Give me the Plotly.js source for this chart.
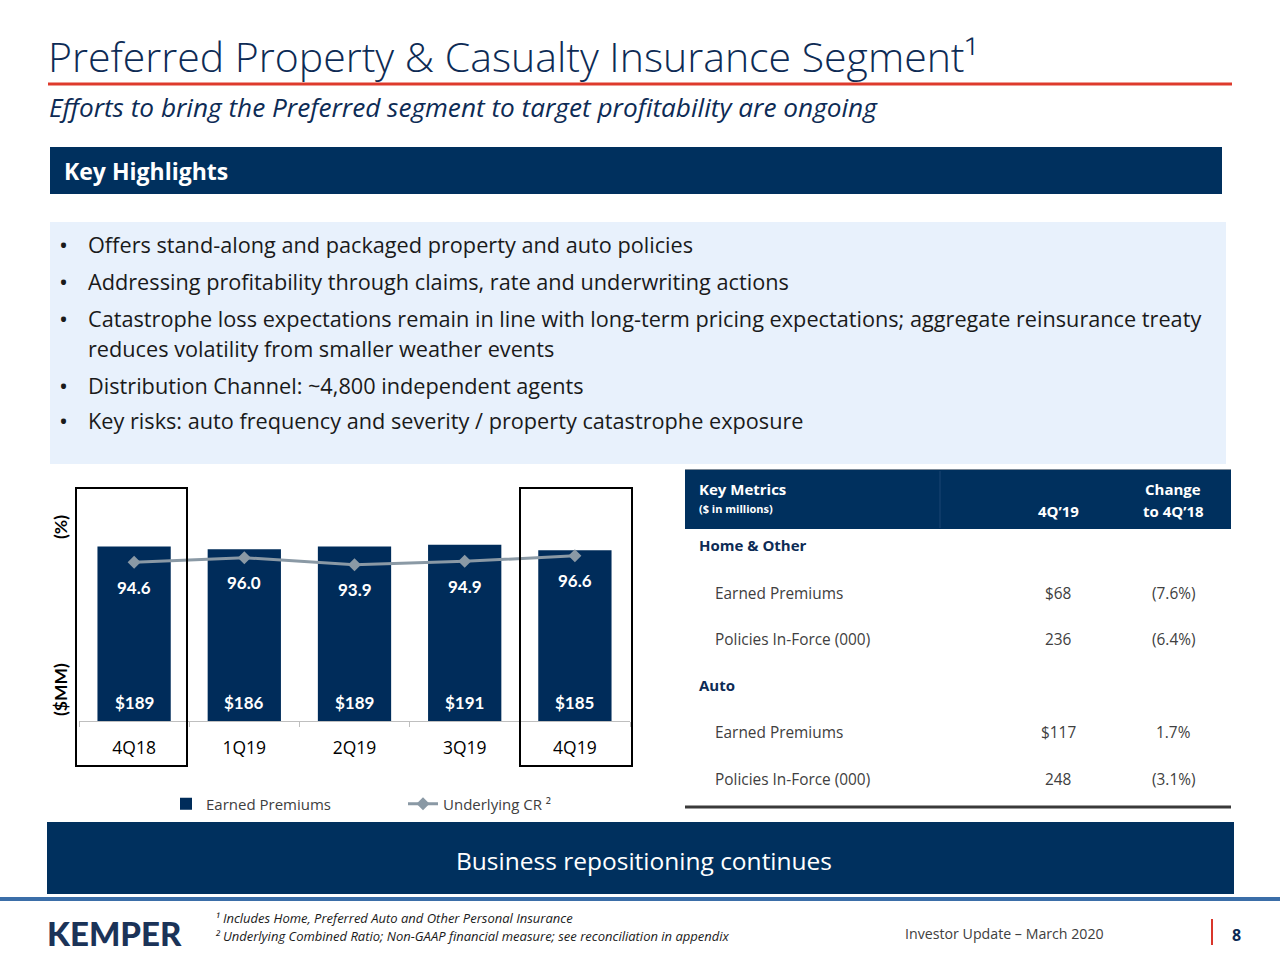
<!DOCTYPE html>
<html>
<head>
<meta charset="utf-8">
<script src="https://cdn.plot.ly/plotly-3.0.1.min.js"></script>
<style>
  html, body { margin: 0; padding: 0; background: #ffffff; }
  #chart { width: 1280px; height: 960px; }
</style>
</head>
<body>
<div id="chart"></div>
<script>
// ---------- data ----------
const quarters = ["4Q18", "1Q19", "2Q19", "3Q19", "4Q19"];
const earnedPremiums = [189, 186, 189, 191, 185];
const underlyingCR = [94.6, 96.0, 93.9, 94.9, 96.6];

const bullets = [
  "Offers stand-along and packaged property and auto policies",
  "Addressing profitability through claims, rate and underwriting actions",
  "Catastrophe loss expectations remain in line with long-term pricing expectations; aggregate reinsurance treaty",
  "Distribution Channel: ~4,800 independent agents",
  "Key risks: auto frequency and severity / property catastrophe exposure"
];
const bulletContinuation = "reduces volatility from smaller weather events";

const tableSections = ["Home & Other", "Auto"];
const tableRowLabels = ["Earned Premiums", "Policies In-Force (000)", "Earned Premiums", "Policies In-Force (000)"];
const tableValues = ["$68", "236", "$117", "248"];
const tableChanges = ["(7.6%)", "(6.4%)", "1.7%", "(3.1%)"];

// ---------- helpers (pixel -> paper) ----------
const W = 1280, H = 960;
const X = p => p / W;
const Y = p => 1 - p / H;
const NAVY = "#00305e";
const FONT = "Open Sans";

const shapes = [];
const annotations = [];

function rect(x0, y0, x1, y1, fill, line) {
  shapes.push({type: "rect", xref: "paper", yref: "paper", x0: X(x0), x1: X(x1), y0: Y(y1), y1: Y(y0),
    fillcolor: fill || "rgba(0,0,0,0)", line: line || {width: 0}, layer: "below"});
}
function hline(x0, x1, y, color, width) {
  shapes.push({type: "line", xref: "paper", yref: "paper", x0: X(x0), x1: X(x1), y0: Y(y), y1: Y(y),
    line: {color: color, width: width}});
}
function vline(x, y0, y1, color, width) {
  shapes.push({type: "line", xref: "paper", yref: "paper", x0: X(x), x1: X(x), y0: Y(y0), y1: Y(y1),
    line: {color: color, width: width}});
}
function txt(text, x, y, opts) {
  opts = opts || {};
  annotations.push({
    text: text, xref: "paper", yref: "paper", x: X(x), y: Y(y),
    xanchor: opts.anchor || "left", yanchor: "middle", showarrow: false,
    textangle: opts.angle || 0,
    font: {family: opts.family || FONT, size: opts.size || 14, color: opts.color || "#1a1a1a",
           weight: opts.weight || 400, style: opts.style || "normal"}
  });
}

// ---------- slide chrome ----------
txt("Preferred Property & Casualty Insurance Segment¹", 46, 56, {size: 41, color: "#0d2b55", weight: 300});
hline(48, 1232, 84, "#de3a2c", 3);
txt("Efforts to bring the Preferred segment to target profitability are ongoing", 47, 107, {size: 26.2, color: "#0d2b55", style: "italic"});

rect(50, 147, 1222, 194, NAVY);
txt("Key Highlights", 62, 171, {size: 23, color: "#ffffff", weight: 700});

rect(50, 222, 1226, 464, "#e8f1fc");
const bulletY = [245, 281, 318, 385, 421];
bullets.forEach((b, i) => {
  txt("•", 57, bulletY[i], {size: 24, color: "#1a1a1a"});
  txt(b, 86, bulletY[i], {size: 21.7, color: "#1a1a1a"});
});
txt(bulletContinuation, 86, 348, {size: 21.7, color: "#1a1a1a"});

// chart frames around 4Q18 and 4Q19
shapes.push({type: "rect", xref: "paper", yref: "paper", x0: X(76), x1: X(187), y0: Y(766), y1: Y(488), line: {color: "#000000", width: 2}});
shapes.push({type: "rect", xref: "paper", yref: "paper", x0: X(520), x1: X(632), y0: Y(766), y1: Y(488), line: {color: "#000000", width: 2}});
txt("(%)", 60, 527, {size: 17.5, color: "#000000", weight: 700, angle: -90, anchor: "center", family: "Lato"});
txt("($MM)", 60, 690, {size: 17.5, color: "#000000", weight: 700, angle: -90, anchor: "center", family: "Lato"});

// ---------- table ----------
rect(685, 470, 1231, 529, NAVY);
hline(685, 1231, 469.5, "#7f8c99", 1);
vline(940, 471, 528, "#1b4473", 1);
txt("Key Metrics", 697, 489, {size: 15, color: "#ffffff", weight: 700});
txt("($ in millions)", 697, 508, {size: 11, color: "#ffffff", weight: 700});
txt("4Q’19", 1058, 511, {size: 15, color: "#ffffff", weight: 700, anchor: "center"});
txt("Change", 1173, 489, {size: 15, color: "#ffffff", weight: 700, anchor: "center"});
txt("to 4Q’18", 1173, 511, {size: 15, color: "#ffffff", weight: 700, anchor: "center"});
const sectionY = [545, 685];
tableSections.forEach((s, i) => txt(s, 697, sectionY[i], {size: 15, color: "#0d2b55", weight: 700}));
const rowY = [593, 639, 732, 779];
tableRowLabels.forEach((r, i) => {
  txt(r, 713, rowY[i], {size: 15.4, color: "#404040"});
  txt(tableValues[i], 1058, rowY[i], {size: 15.4, color: "#404040", anchor: "center"});
  txt(tableChanges[i], 1173, rowY[i], {size: 15.4, color: "#404040", anchor: "center"});
});
hline(685, 1231, 807, "#3a3a3a", 3);

// ---------- banner + footer ----------
rect(47, 822, 1234, 894, NAVY);
txt("Business repositioning continues", 644, 860, {size: 24.5, color: "#ffffff", anchor: "center"});
rect(0, 897, 1280, 901, "#3b6ea8");
txt("KEMPER", 45, 933, {size: 33, color: "#1b3358", weight: 900, family: "Lato"});
txt("¹ Includes Home, Preferred Auto and Other Personal Insurance", 213, 918, {size: 13, color: "#1a1a1a", style: "italic"});
txt("² Underlying Combined Ratio; Non-GAAP financial measure; see reconciliation in appendix", 213, 936, {size: 13, color: "#1a1a1a", style: "italic"});
txt("Investor Update – March 2020", 903, 933, {size: 14.2, color: "#404040"});
vline(1212, 919, 945, "#d9362b", 2);
txt("8", 1236, 935, {size: 16, color: "#0d2b55", weight: 700, anchor: "center"});

// ---------- chart value labels ----------
quarters.forEach((q, i) => {
  annotations.push({text: underlyingCR[i].toFixed(1), xref: "x", yref: "y2", x: q, y: underlyingCR[i], yshift: -25,
    showarrow: false, xanchor: "center", yanchor: "middle",
    font: {family: "Lato", size: 17, color: "#ffffff", weight: 700}});
  annotations.push({text: "$" + earnedPremiums[i], xref: "x", yref: "y", x: q, y: 0, yshift: 19,
    showarrow: false, xanchor: "center", yanchor: "middle",
    font: {family: "Lato", size: 17, color: "#ffffff", weight: 700}});
});

// ---------- traces ----------
const traces = [
  {type: "bar", name: "Earned Premiums", x: quarters, y: earnedPremiums, width: 0.665,
   marker: {color: "#002c5a"}, hoverinfo: "skip"},
  {type: "scatter", mode: "lines+markers", name: "Underlying CR ²", x: quarters, y: underlyingCR, yaxis: "y2",
   line: {color: "#8a99a5", width: 3}, marker: {symbol: "diamond", size: 10, color: "#8a99a5"}, hoverinfo: "skip"}
];

const layout = {
  width: W, height: H,
  margin: {l: 0, r: 0, t: 0, b: 0},
  paper_bgcolor: "#ffffff", plot_bgcolor: "rgba(0,0,0,0)",
  font: {family: FONT, color: "#000000"},
  xaxis: {domain: [X(79), X(630)], type: "category", range: [-0.5, 4.5], tickson: "boundaries",
          ticks: "outside", ticklen: 5, tickcolor: "#bfbfbf", showline: true, linecolor: "#bfbfbf", linewidth: 1,
          showgrid: false, zeroline: false, ticklabelstandoff: 11,
          tickfont: {family: FONT, size: 17.5, color: "#000000"}, fixedrange: true},
  yaxis: {domain: [Y(721), Y(488)], range: [0, 252.4], visible: false, showgrid: false, zeroline: false, fixedrange: true},
  yaxis2: {domain: [Y(721), Y(488)], overlaying: "y", range: [46.96, 116.93], visible: false, showgrid: false, zeroline: false, fixedrange: true},
  showlegend: true,
  legend: {orientation: "h", x: X(166), y: Y(804), xanchor: "left", yanchor: "middle",
           entrywidth: 192, bgcolor: "rgba(0,0,0,0)",
           font: {family: FONT, size: 15, color: "#404040"}},
  shapes: shapes,
  annotations: annotations
};

Plotly.newPlot("chart", traces, layout, {staticPlot: true, displayModeBar: false});
</script>
</body>
</html>
